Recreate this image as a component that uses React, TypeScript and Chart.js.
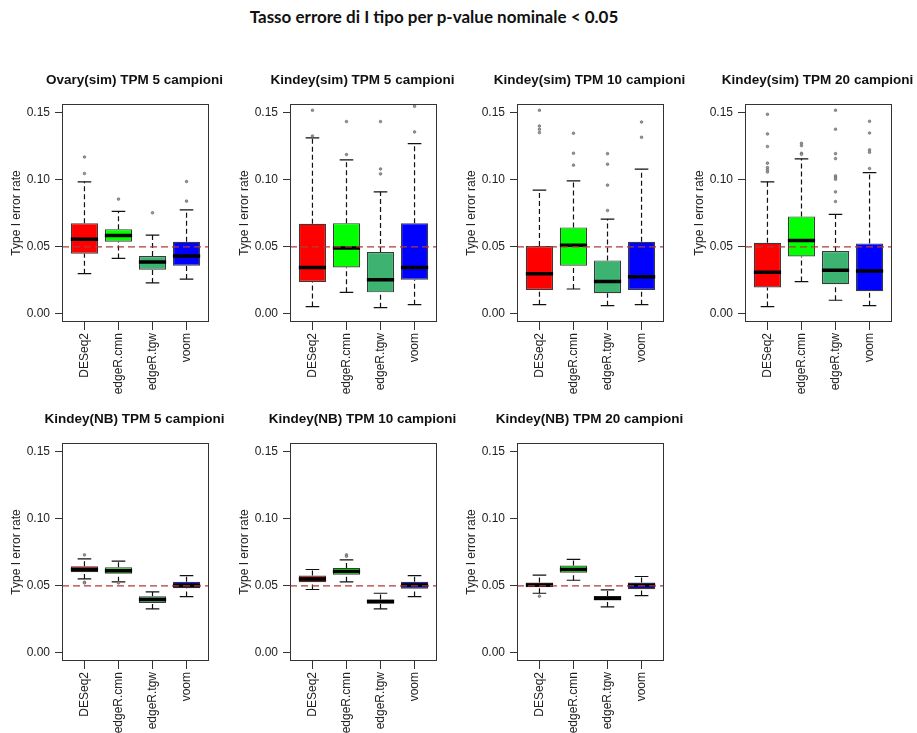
import React, { useEffect, useRef } from "react";
import { Chart, registerables } from "chart.js";

Chart.register(...registerables);

const MAIN_TITLE = "Tasso errore di I tipo per p-value nominale < 0.05";
const PANEL_TITLES = [
  "Ovary(sim) TPM 5 campioni",
  "Kindey(sim) TPM 5 campioni",
  "Kindey(sim) TPM 10 campioni",
  "Kindey(sim) TPM 20 campioni",
  "Kindey(NB) TPM 5 campioni",
  "Kindey(NB) TPM 10 campioni",
  "Kindey(NB) TPM 20 campioni",
];
const METHODS = ["DESeq2", "edgeR.cmn", "edgeR.tgw", "voom"];
const Y_TICKS = [0, 0.05, 0.1, 0.15];
const Y_TITLE = "Type I error rate";
const NOMINAL_ALPHA = 0.05;

// Box-plot statistics, one row per panel, one column per method
const WHISKER_LOW = [
  [0.03, 0.0414, 0.0231, 0.026],
  [0.0055, 0.0161, 0.0047, 0.0069],
  [0.0069, 0.0186, 0.0062, 0.0069],
  [0.0055, 0.0241, 0.0102, 0.0062],
  [0.0552, 0.053, 0.0328, 0.042],
  [0.0473, 0.053, 0.0328, 0.042],
  [0.0445, 0.0542, 0.0343, 0.0428],
];
const Q1 = [
  [0.0449, 0.0538, 0.033, 0.036],
  [0.0238, 0.0347, 0.0161, 0.0255],
  [0.0179, 0.036, 0.0154, 0.0179],
  [0.0198, 0.0429, 0.0221, 0.0169],
  [0.0602, 0.059, 0.0373, 0.0483],
  [0.0527, 0.0582, 0.0366, 0.0478],
  [0.049, 0.0597, 0.0391, 0.0475],
];
const MEDIAN = [
  [0.0556, 0.0585, 0.0387, 0.0432],
  [0.0347, 0.0491, 0.0255, 0.0347],
  [0.03, 0.0513, 0.0241, 0.0278],
  [0.031, 0.0548, 0.0325, 0.032],
  [0.0622, 0.0612, 0.0398, 0.0502],
  [0.0552, 0.0607, 0.0383, 0.0505],
  [0.0507, 0.0622, 0.0408, 0.0505],
];
const Q3 = [
  [0.0677, 0.0632, 0.0432, 0.0538],
  [0.0672, 0.0677, 0.0461, 0.0677],
  [0.0506, 0.0645, 0.0399, 0.0538],
  [0.0531, 0.0727, 0.0469, 0.0526],
  [0.0647, 0.0639, 0.0423, 0.053],
  [0.0577, 0.0634, 0.0398, 0.053],
  [0.0525, 0.0652, 0.0425, 0.0525],
];
const WHISKER_HIGH = [
  [0.0985, 0.0764, 0.0588, 0.0776],
  [0.1312, 0.1148, 0.091, 0.127],
  [0.0923, 0.0992, 0.0707, 0.1079],
  [0.0985, 0.1156, 0.0742, 0.1054],
  [0.0701, 0.0684, 0.0455, 0.0577],
  [0.0622, 0.0694, 0.0445, 0.0577],
  [0.058, 0.0697, 0.047, 0.057],
];
const OUTLIERS: number[][][] = [
  [[0.117, 0.1047], [0.0856], [0.0754], [0.0987, 0.0841]],
  [[0.1518, 0.1327], [0.1434, 0.1188], [0.1434, 0.1081, 0.1044], [0.1548, 0.1357]],
  [[0.1518, 0.1401, 0.1377, 0.1352], [0.1347, 0.1198, 0.1109], [0.1195, 0.1116, 0.096, 0.0771], [0.1431, 0.1317]],
  [
    [0.1488, 0.1342, 0.1248, 0.1124, 0.1091, 0.1075, 0.1059],
    [0.1272, 0.1255, 0.1198, 0.119],
    [0.1518, 0.1377, 0.1195, 0.1158, 0.1029, 0.1015, 0.1004, 0.091, 0.0838],
    [0.1436, 0.1349, 0.1223, 0.1205, 0.1084],
  ],
  [[0.0731, 0.0527, 0.0522], [0.0522], [], []],
  [[], [0.0731, 0.0721], [], []],
  [[0.0423], [], [], []],
];

// ---- styling / layout (not data) ----
const METHOD_COLORS = ["#FF0000", "#00FF00", "#3CB371", "#0000FF"];
const FONT = '"Liberation Sans", Arial, sans-serif';
const BOX_WIDTH = 0.8;
const PANEL_LEFT = [62, 290, 517, 745, 62, 290, 517];
const PANEL_TOP = [104, 104, 104, 104, 443, 443, 443];
const PLOT_W = 147;
const PLOT_H = 218;
const PAD_L = 62;
const PAD_T = 60;
const PAD_R = 26;
const PAD_B = 80;

Chart.defaults.font.family = FONT;

const framePlugin = {
  id: "frameAndTitle",
  afterDraw(chart: any) {
    const { ctx, chartArea } = chart;
    ctx.save();
    ctx.strokeStyle = "#333";
    ctx.lineWidth = 1;
    ctx.strokeRect(
      Math.round(chartArea.left) + 0.5,
      Math.round(chartArea.top) + 0.5,
      Math.round(chartArea.right - chartArea.left) - 1,
      Math.round(chartArea.bottom - chartArea.top) - 1
    );
    const t = chart.options.plugins.panelTitle?.text;
    if (t) {
      ctx.fillStyle = "#111";
      ctx.font = `bold 13.5px ${FONT}`;
      ctx.textAlign = "center";
      ctx.textBaseline = "middle";
      ctx.fillText(t, (chartArea.left + chartArea.right) / 2 - 1, chartArea.top - 23.5);
    }
    ctx.restore();
  },
};

function buildDatasets(p: number) {
  const boxes = METHODS.map((_, i) => ({ x: i + 1, y: [Q1[p][i], Q3[p][i]] }));
  const whiskers: any[] = [];
  const caps: any[] = [];
  const medians: any[] = [];
  const outliers: any[] = [];
  METHODS.forEach((_, i) => {
    const x = i + 1;
    whiskers.push({ x, y: WHISKER_LOW[p][i] }, { x, y: Q1[p][i] }, { x, y: null });
    whiskers.push({ x, y: Q3[p][i] }, { x, y: WHISKER_HIGH[p][i] }, { x, y: null });
    const cw = BOX_WIDTH / 4;
    caps.push({ x: x - cw, y: WHISKER_LOW[p][i] }, { x: x + cw, y: WHISKER_LOW[p][i] }, { x, y: null });
    caps.push({ x: x - cw, y: WHISKER_HIGH[p][i] }, { x: x + cw, y: WHISKER_HIGH[p][i] }, { x, y: null });
    const mw = BOX_WIDTH / 2;
    medians.push({ x: x - mw, y: MEDIAN[p][i] }, { x: x + mw, y: MEDIAN[p][i] }, { x, y: null });
    OUTLIERS[p][i].forEach((v) => outliers.push({ x, y: v }));
  });
  return [
    {
      type: "line",
      data: [
        { x: 0.34, y: NOMINAL_ALPHA },
        { x: 4.66, y: NOMINAL_ALPHA },
      ],
      borderColor: "#B23A3A",
      borderWidth: 1.3,
      borderDash: [7, 4],
      pointRadius: 0,
      order: 0,
    },
    {
      type: "scatter",
      data: outliers,
      pointRadius: 1.3,
      pointStyle: "circle",
      backgroundColor: "#999",
      borderColor: "#666",
      borderWidth: 0.7,
      order: 1,
    },
    {
      type: "line",
      data: medians,
      borderColor: "#000",
      borderWidth: 3.5,
      borderCapStyle: "butt",
      pointRadius: 0,
      spanGaps: false,
      order: 2,
    },
    {
      type: "line",
      data: caps,
      borderColor: "#111",
      borderWidth: 1.2,
      pointRadius: 0,
      spanGaps: false,
      order: 3,
    },
    {
      type: "bar",
      data: boxes,
      backgroundColor: METHOD_COLORS,
      borderColor: "#3a3a3a",
      borderWidth: 1.2,
      borderSkipped: false,
      barPercentage: BOX_WIDTH,
      categoryPercentage: 1,
      order: 4,
    },
    {
      type: "line",
      data: whiskers,
      borderColor: "#111",
      borderWidth: 1.2,
      borderDash: [5, 3],
      pointRadius: 0,
      spanGaps: false,
      order: 5,
    },
  ];
}

function Panel({ p }: { p: number }) {
  const ref = useRef<HTMLCanvasElement>(null);
  useEffect(() => {
    const chart = new Chart(ref.current as HTMLCanvasElement, {
      type: "bar",
      data: { datasets: buildDatasets(p) as any },
      options: {
        responsive: false,
        animation: false,
        events: [],
        layout: { padding: { left: 0, top: PAD_T, right: PAD_R, bottom: 0 } },
        plugins: {
          legend: { display: false },
          tooltip: { enabled: false },
          panelTitle: { text: PANEL_TITLES[p] },
        } as any,
        scales: {
          x: {
            type: "linear",
            min: 0.34,
            max: 4.66,
            offset: false,
            afterBuildTicks: (s: any) => {
              s.ticks = METHODS.map((_, i) => ({ value: i + 1 }));
            },
            afterFit: (s: any) => {
              s.height = PAD_B;
            },
            ticks: {
              autoSkip: false,
              minRotation: 90,
              maxRotation: 90,
              padding: 3,
              color: "#222",
              font: { size: 12 },
              callback: (_v: any, i: number) => METHODS[i],
            },
            grid: { offset: false, drawOnChartArea: false, drawTicks: true, tickLength: 8, color: "#333" },
            border: { display: false },
          },
          y: {
            type: "linear",
            min: -0.006,
            max: 0.1565,
            afterBuildTicks: (s: any) => {
              s.ticks = Y_TICKS.map((v) => ({ value: v }));
            },
            afterFit: (s: any) => {
              s.width = PAD_L;
            },
            ticks: {
              padding: 5,
              color: "#222",
              font: { size: 12 },
              callback: (v: any) => Number(v).toFixed(2),
            },
            title: {
              display: true,
              text: Y_TITLE,
              color: "#222",
              font: { size: 12 },
              padding: { top: 9.5, bottom: 0 },
            },
            grid: { drawOnChartArea: false, drawTicks: true, tickLength: 7, color: "#333" },
            border: { display: false },
          },
        },
      } as any,
      plugins: [framePlugin],
    });
    return () => chart.destroy();
  }, [p]);
  const W = PAD_L + PLOT_W + PAD_R;
  const H = PAD_T + PLOT_H + PAD_B;
  return (
    <canvas
      ref={ref}
      width={W}
      height={H}
      style={{ position: "absolute", left: PANEL_LEFT[p] - PAD_L, top: PANEL_TOP[p] - PAD_T, width: W, height: H }}
    />
  );
}

export default function App() {
  return (
    <div style={{ position: "absolute", left: 0, top: 0, width: 917, height: 733, background: "#fff", overflow: "hidden" }}>
      <div
        style={{
          position: "absolute",
          left: 0,
          top: 5,
          width: 868,
          textAlign: "center",
          fontFamily: 'Lato, "Open Sans", sans-serif',
          fontWeight: 700,
          fontSize: 17,
          color: "#111",
          lineHeight: "24px",
        }}
      >
        {MAIN_TITLE}
      </div>
      {PANEL_TITLES.map((_, p) => (
        <Panel key={p} p={p} />
      ))}
    </div>
  );
}
